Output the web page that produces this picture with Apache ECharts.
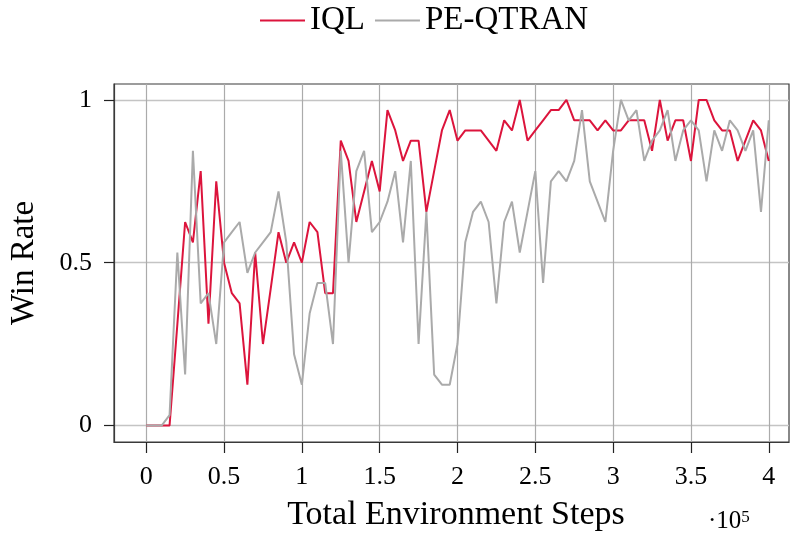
<!DOCTYPE html>
<html>
<head>
    <meta charset="UTF-8">
    <title>Win Rate</title>
    <script src="https://cdn.jsdelivr.net/npm/echarts@6/dist/echarts.min.js"></script>
</head>
<style type="text/css">
    body { margin: 0; background: #fff; }
    #main { width: 790px; height: 537px; }
</style>
<body>
<div id="main"></div>
<script type="text/javascript">
    // total environment steps (x 10^5)
    var steps = [0, 0.05, 0.1, 0.15, 0.2, 0.25, 0.3, 0.35, 0.4, 0.45,
        0.5, 0.55, 0.6, 0.65, 0.7, 0.75, 0.8, 0.85, 0.9, 0.95,
        1, 1.05, 1.1, 1.15, 1.2, 1.25, 1.3, 1.35, 1.4, 1.45,
        1.5, 1.55, 1.6, 1.65, 1.7, 1.75, 1.8, 1.85, 1.9, 1.95,
        2, 2.05, 2.1, 2.15, 2.2, 2.25, 2.3, 2.35, 2.4, 2.45,
        2.5, 2.55, 2.6, 2.65, 2.7, 2.75, 2.8, 2.85, 2.9, 2.95,
        3, 3.05, 3.1, 3.15, 3.2, 3.25, 3.3, 3.35, 3.4, 3.45,
        3.5, 3.55, 3.6, 3.65, 3.7, 3.75, 3.8, 3.85, 3.9, 3.95, 4];

    var iql = [0, 0, 0, 0, 0.31, 0.625, 0.5625, 0.78125, 0.3125, 0.75,
        0.5, 0.40625, 0.375, 0.125, 0.53125, 0.25, 0.42, 0.59375, 0.5, 0.5625,
        0.5, 0.625, 0.59375, 0.40625, 0.40625, 0.875, 0.8125, 0.625, 0.71875, 0.8125,
        0.71875, 0.96875, 0.90625, 0.8125, 0.875, 0.875, 0.65625, 0.78125, 0.90625, 0.96875,
        0.875, 0.90625, 0.90625, 0.90625, 0.875, 0.84375, 0.9375, 0.90625, 1, 0.875,
        0.90625, 0.9375, 0.96875, 0.96875, 1, 0.9375, 0.9375, 0.9375, 0.90625, 0.9375,
        0.90625, 0.90625, 0.9375, 0.9375, 0.9375, 0.84375, 1, 0.875, 0.9375, 0.9375,
        0.8125, 1, 1, 0.9375, 0.90625, 0.90625, 0.8125, 0.875, 0.9375, 0.90625, 0.8125];

    var peqtran = [0, 0, 0, 0.03125, 0.53125, 0.15625, 0.84375, 0.375, 0.40625, 0.25,
        0.5625, 0.59375, 0.625, 0.46875, 0.53125, 0.5625, 0.59375, 0.71875, 0.5625, 0.21875,
        0.125, 0.34375, 0.4375, 0.4375, 0.25, 0.84375, 0.5, 0.78125, 0.84375, 0.59375,
        0.625, 0.6875, 0.78125, 0.5625, 0.8125, 0.25, 0.65625, 0.15625, 0.125, 0.125,
        0.25, 0.5625, 0.65625, 0.6875, 0.625, 0.375, 0.625, 0.6875, 0.53125, 0.65625,
        0.78125, 0.4375, 0.75, 0.78125, 0.75, 0.8125, 0.96875, 0.75, 0.6875, 0.625,
        0.84375, 1, 0.9375, 0.96875, 0.8125, 0.875, 0.90625, 0.96875, 0.8125, 0.90625,
        0.9375, 0.90625, 0.75, 0.90625, 0.84375, 0.9375, 0.90625, 0.84375, 0.90625, 0.65625, 0.9375];

    var xTicks = [0, 0.5, 1, 1.5, 2, 2.5, 3, 3.5, 4];
    var yTicks = [0, 0.5, 1];

    function pairs(ys) {
        var out = [];
        for (var i = 0; i < steps.length; i++) {
            out.push([steps[i], ys[i]]);
        }
        return out;
    }

    var serif = 'Liberation Serif';
    var myChart = echarts.init(document.getElementById('main'));
    var option = {
        animation: false,
        backgroundColor: '#fff',
        textStyle: { fontFamily: serif, color: '#000' },
        legend: {
            left: 260,
            top: 4,
            padding: 0,
            icon: 'rect',
            itemWidth: 45,
            itemHeight: 2,
            itemGap: 10,
            textStyle: { fontFamily: serif, fontSize: 33, color: '#000' },
            data: ['IQL', 'PE-QTRAN']
        },
        grid: {
            left: 112,
            right: 1,
            top: 84,
            bottom: 93,
            show: true,
            borderColor: '#3a3a3a',
            borderWidth: 1.2
        },
        xAxis: {
            type: 'value',
            min: -0.207,
            max: 4.13,
            name: 'Total Environment Steps',
            nameLocation: 'middle',
            nameGap: 56,
            nameTextStyle: { fontFamily: serif, fontSize: 34, color: '#000', padding: [0, 0, 0, 9] },
            axisLine: { show: true, onZero: false, lineStyle: { color: '#3a3a3a', width: 1.2 } },
            axisTick: { show: true, inside: false, length: 11, customValues: xTicks,
                lineStyle: { color: '#222', width: 1.2 } },
            axisLabel: { customValues: xTicks, margin: 22, fontFamily: serif, fontSize: 26, color: '#000' },
            splitLine: { show: true, lineStyle: { color: '#ababab', width: 1.2 } }
        },
        yAxis: {
            type: 'value',
            min: -0.051,
            max: 1.049,
            name: 'Win Rate',
            nameLocation: 'middle',
            nameGap: 73,
            nameTextStyle: { fontFamily: serif, fontSize: 33, color: '#000' },
            axisLine: { show: true, onZero: false, lineStyle: { color: '#3a3a3a', width: 1.2 } },
            axisTick: { show: true, inside: false, length: 10, customValues: yTicks,
                lineStyle: { color: '#222', width: 1.2 } },
            axisLabel: { customValues: yTicks, margin: 22, fontFamily: serif, fontSize: 26, color: '#000' },
            splitLine: { show: true, lineStyle: { color: '#c4c4c4', width: 1.4 } }
        },
        graphic: [{
            type: 'text',
            left: 708,
            top: 509,
            style: {
                text: '·10{s|5}',
                font: '25px "Liberation Serif"',
                fill: '#000',
                rich: {
                    s: { fontSize: 17, fontFamily: serif, verticalAlign: 'top', fill: '#000' }
                }
            }
        }],
        series: [
            {
                name: 'IQL',
                type: 'line',
                symbol: 'none',
                data: pairs(iql),
                lineStyle: { color: '#dc143c', width: 2 },
                itemStyle: { color: '#dc143c' }
            },
            {
                name: 'PE-QTRAN',
                type: 'line',
                symbol: 'none',
                data: pairs(peqtran),
                lineStyle: { color: '#aaaaaa', width: 2 },
                itemStyle: { color: '#aaaaaa' }
            }
        ]
    };
    myChart.setOption(option);
</script>
</body>
</html>
